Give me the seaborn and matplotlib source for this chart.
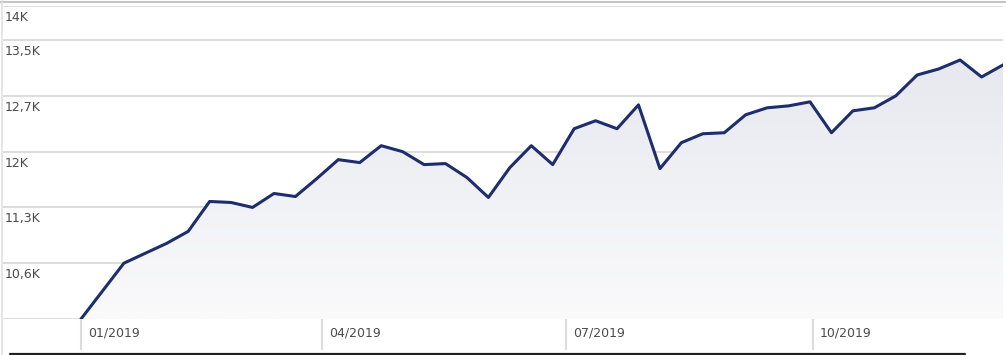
import numpy as np
import pandas as pd
import seaborn as sns
import matplotlib.pyplot as plt
import matplotlib.dates as mdates
import matplotlib.transforms as mtrans
from matplotlib.colors import LinearSegmentedColormap
from matplotlib.lines import Line2D
from matplotlib.patches import PathPatch

# values (one point every 8 days)
dates = pd.date_range("2019-01-01", periods=44, freq="8D")
values = [9880, 10240, 10600, 10729, 10857, 11011, 11397, 11384, 11320, 11500,
          11461, 11693, 11937, 11899, 12117, 12040, 11873, 11886, 11706, 11449,
          11834, 12117, 11873, 12336, 12439, 12336, 12644, 11821, 12156, 12271,
          12284, 12516, 12606, 12631, 12683, 12284, 12567, 12606, 12760, 13030,
          13107, 13223, 13004, 13159]

y_ticks = [10600, 11320, 12040, 12760, 13480, 13920]
y_labels = ["10,6K", "11,3K", "12K", "12,7K", "13,5K", "14K"]
x_ticks = pd.to_datetime(["2019-01-01", "2019-04-01", "2019-07-01", "2019-10-01"])
x_labels = ["01/2019", "04/2019", "07/2019", "10/2019"]

y_min, y_max = 9880, 13920
line_color = "#1e2d6b"
grid_color = "#dadada"
text_color = "#4a4a4a"

df = pd.DataFrame({"date": dates, "value": values})

sns.set_style("white")
plt.rcParams["font.family"] = ["DejaVu Sans"]

fig = plt.figure(figsize=(10.06, 3.55), dpi=100)
ax = fig.add_axes([3 / 1006, 36 / 355, 1000 / 1006, 313 / 355])

# x range: start ~29 days before the first point, end at the last one
x0 = mdates.date2num(dates[0]) - 29.1
x1 = mdates.date2num(dates[-1])
ax.set_xlim(x0, x1)
ax.set_ylim(y_min, y_max)

# gradient area under the line
poly = ax.fill_between(df["date"], df["value"], y_min, color="none", lw=0)
patch = PathPatch(poly.get_paths()[0], transform=ax.transData,
                  facecolor="none", edgecolor="none")
ax.add_patch(patch)
cmap = LinearSegmentedColormap.from_list("fill", ["#fafafb", "#e3e5ed"])
grad = np.linspace(0, 1, 256).reshape(-1, 1)
im = ax.imshow(grad, extent=[x0, x1, y_min, y_max], aspect="auto",
               cmap=cmap, origin="lower", zorder=1)
im.set_clip_path(patch)

sns.lineplot(data=df, x="date", y="value", ax=ax, color=line_color,
             linewidth=2.2, zorder=3)

# horizontal grid lines and y labels inside the plot
for v, lbl in zip(y_ticks, y_labels):
    ax.axhline(v, color=grid_color, lw=1.3, zorder=0.5)
    ax.annotate(lbl, xy=(0, v), xycoords=ax.get_yaxis_transform(),
                xytext=(1, -3.5), textcoords="offset points",
                va="top", ha="left", fontsize=9, color=text_color)
ax.axhline(y_min, color=grid_color, lw=1.3, zorder=0.5)

# x ticks: vertical tick lines below the axis with labels on their right
ax.set_xticks(x_ticks)
ax.set_xticklabels(x_labels)
ax.tick_params(axis="x", length=0, pad=-1, labelsize=9, labelcolor=text_color)
offset = mtrans.ScaledTranslation(7 / 100, -9 / 100, fig.dpi_scale_trans)
for lbl in ax.get_xticklabels():
    lbl.set_horizontalalignment("left")
    lbl.set_transform(lbl.get_transform() + offset)
ax.vlines(x_ticks, -31 / 313, 0, transform=ax.get_xaxis_transform(),
          colors="#dcdcdc", lw=1.5, clip_on=False)

ax.set_yticks([])
ax.set_xlabel("")
ax.set_ylabel("")
for s in ax.spines.values():
    s.set_visible(False)

# frame lines of the widget
fig.add_artist(Line2D([0, 1], [1 - 2 / 355] * 2, color="#c4c4c4", lw=1.5))
fig.add_artist(Line2D([2 / 1006] * 2, [0, 1], color="#e0e0e0", lw=1.2))
fig.add_artist(Line2D([10 / 1006, 965 / 1006], [1.5 / 355] * 2, color="#222222", lw=1.6))

fig.savefig("out.png", dpi=100)
